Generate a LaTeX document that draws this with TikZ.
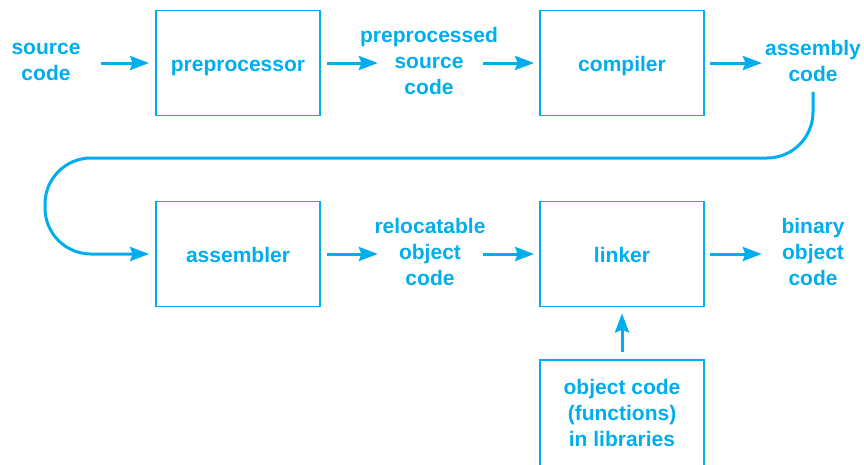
\documentclass[tikz,border=0pt]{standalone}
\usepackage{fontspec}
\setmainfont{Liberation Sans}
\usetikzlibrary{arrows.meta}
\definecolor{cy}{RGB}{0,174,239}
\begin{document}
\begin{tikzpicture}[x=1pt,y=-1pt,
  every node/.style={font=\fontsize{21}{26}\selectfont\bfseries, text=cy, inner sep=0pt, align=center},
  box/.style={draw=cy, line width=1.8pt, minimum width=164pt, minimum height=105pt, text height=19pt, text depth=3pt},
  libbox/.style={draw=cy, line width=1.8pt, minimum width=164pt, minimum height=106pt},
  lbl/.style={},
  arr/.style={draw=cy, line width=3pt, -{Stealth[length=19pt,width=14pt,inset=2.5pt]}}]
\useasboundingbox (0,0) rectangle (864,464);
% boxes
\node[box] (pp) at (238,63) {preprocessor};
\node[box] (comp) at (622,63) {compiler};
\node[box] (asmb) at (238,254) {assembler};
\node[box] (link) at (622,254) {linker};
\node[libbox] (lib) at (622,413) {object code\\(functions)\\in libraries};
% labels
\node[lbl] (src) at (46,62) {source\\code};
\node[lbl] (pps) at (429,61) {preprocessed\\source\\code};
\node[lbl] (asm) at (813,61) {assembly\\code};
\node[lbl] (rel) at (430,252) {relocatable\\object\\code};
\node[lbl] (bin) at (813,252) {binary\\object\\code};
% arrows top row
\draw[arr, shorten <=20pt, shorten >=6pt] (src.east |- pp.west) -- (pp.west);
\draw[arr, shorten <=6pt, shorten >=-18pt] (pp.east) -- (pps.west |- pp.east);
\draw[arr, shorten <=-14.7pt, shorten >=5pt] (pps.east |- comp.west) -- (comp.west);
\draw[arr, shorten <=5pt, shorten >=3pt] (comp.east) -- (asm.west |- comp.east);
% loop
\draw[arr, rounded corners=46pt, shorten <=10pt, shorten >=6pt] (asm.south) -- (asm.south |- 0,158) -- (45,158) -- (45,254) -- (asmb.west);
% arrows second row
\draw[arr, shorten <=6pt, shorten >=-3.5pt] (asmb.east) -- (rel.west |- asmb.east);
\draw[arr, shorten <=-2.5pt, shorten >=5pt] (rel.east |- link.west) -- (link.west);
\draw[arr, shorten <=5pt, shorten >=19.5pt] (link.east) -- (bin.west |- link.east);
\draw[arr, shorten <=7pt, shorten >=6pt] (lib.north) -- (link.south);
\end{tikzpicture}
\end{document}
